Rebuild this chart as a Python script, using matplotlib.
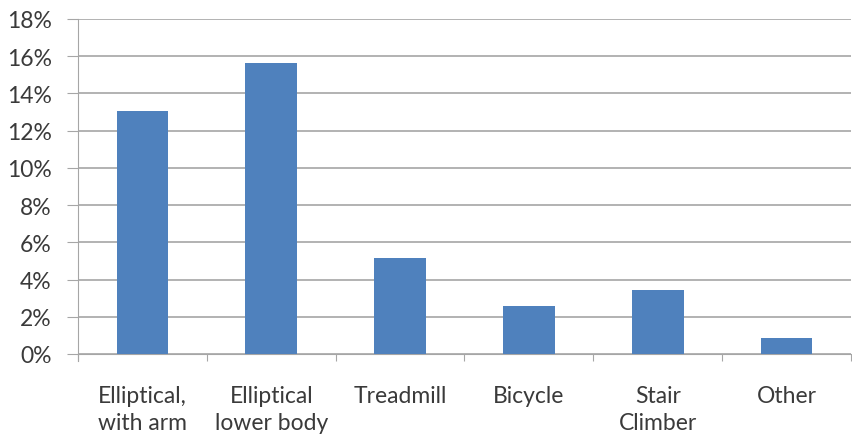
import matplotlib.pyplot as plt
from matplotlib.ticker import MultipleLocator, FuncFormatter

# data
categories = ['Elliptical,\nwith arm', 'Elliptical\nlower body', 'Treadmill',
              'Bicycle', 'Stair\nClimber', 'Other']
share = [13.05, 15.65, 5.18, 2.6, 3.45, 0.87]

plt.rcParams['font.family'] = ['Lato', 'DejaVu Sans']

fig = plt.figure(figsize=(8.52, 4.39), dpi=100)
ax = fig.add_axes([78 / 852, 1 - 355 / 439, (851 - 78) / 852, (355 - 20) / 439])

x = range(len(categories))
ax.bar(x, share, width=0.4, color='#4F81BD', zorder=3)

ax.set_xlim(-0.5, len(categories) - 0.5)
ax.set_ylim(0, 18)
ax.yaxis.set_major_locator(MultipleLocator(2))
ax.yaxis.set_major_formatter(FuncFormatter(lambda v, p: f'{v:.0f}%'))
ax.grid(axis='y', color='#A6A6A6', linewidth=1.2, zorder=0)

ax.set_xticks([i - 0.5 for i in range(len(categories) + 1)])
ax.set_xticklabels([])
ax.set_xticks(list(x), minor=True)
ax.set_xticklabels(categories, minor=True, fontsize=16.5, color='#3A3A3A', linespacing=1.35)
ax.tick_params(axis='x', which='minor', length=0, pad=22)
ax.tick_params(axis='x', which='major', length=5, color='#A6A6A6')
ax.tick_params(axis='y', length=8, color='#A6A6A6', labelsize=16.5, labelcolor='#3A3A3A', pad=11)

for side in ['top', 'right']:
    ax.spines[side].set_visible(False)
ax.spines['left'].set_color('#A6A6A6')
ax.spines['bottom'].set_color('#A6A6A6')
ax.spines['left'].set_bounds(-0.35, 18)

fig.savefig('out.png', dpi=100)
